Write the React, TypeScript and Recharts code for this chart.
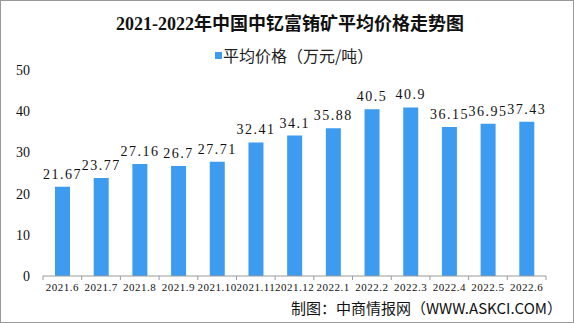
import React from "react";
import { BarChart, Bar, XAxis, YAxis, LabelList, Legend } from "recharts";

const months = [
  "2021.6", "2021.7", "2021.8", "2021.9", "2021.10", "2021.11", "2021.12",
  "2022.1", "2022.2", "2022.3", "2022.4", "2022.5", "2022.6",
];
const prices = [21.67, 23.77, 27.16, 26.7, 27.71, 32.41, 34.1, 35.88, 40.5, 40.9, 36.15, 36.95, 37.43];
const yTicks = [0, 10, 20, 30, 40, 50];

const data = months.map((m, i) => ({ month: m, price: prices[i] }));

const serif = '"Liberation Serif", "DejaVu Serif", serif';
const W = 572;
const H = 321;
const M = { top: 49, right: 27, bottom: 16, left: 0 };
const Y_W = 42;
const band = (W - M.left - M.right - Y_W) / months.length;

function MonthTick(props: any) {
  const { x, y, payload, index } = props;
  const last = index === months.length - 1;
  return (
    <g>
      <line x1={x - band / 2} x2={x - band / 2} y1={y} y2={y + 4} stroke="#9a9a9a" />
      {last && <line x1={x + band / 2} x2={x + band / 2} y1={y} y2={y + 4} stroke="#9a9a9a" />}
      <text
        x={x}
        y={y + 15}
        textAnchor="middle"
        fontSize={11}
        fill="#111"
        fontFamily={serif}
        letterSpacing={0.5}
      >
        {payload.value}
      </text>
    </g>
  );
}

function LegendBox() {
  return (
    <div style={{ display: "flex", alignItems: "center", height: 20, lineHeight: "20px", fontSize: 16, color: "#222" }}>
      <span style={{ width: 7, height: 7, background: "#3d9cf0", marginRight: 1, display: "inline-block" }} />
      <span>平均价格（万元/吨）</span>
    </div>
  );
}

export default function App() {
  return (
    <div
      style={{
        position: "absolute",
        left: 0,
        top: 0,
        width: 574,
        height: 323,
        boxSizing: "border-box",
        border: "1px solid #999",
        background: "#fff",
        fontFamily: '"Noto Sans CJK SC", sans-serif',
      }}
    >
      <div
        style={{
          position: "absolute",
          top: 13,
          left: 0,
          width: 578,
          height: 20,
          lineHeight: "20px",
          textAlign: "center",
          fontFamily: '"Liberation Serif", "Noto Sans CJK SC", serif',
          fontWeight: "bold",
          fontSize: 18,
          color: "#111",
        }}
      >
        2021-2022年中国中钇富铕矿平均价格走势图
      </div>
      <BarChart width={W} height={H} data={data} margin={M}>
        <Legend
          verticalAlign="top"
          content={<LegendBox />}
          wrapperStyle={{ top: 44, left: 214, width: 200, height: 20 }}
        />
        <XAxis
          dataKey="month"
          height={30}
          axisLine={{ stroke: "#9a9a9a" }}
          tickLine={false}
          tickSize={0}
          tickMargin={0}
          interval={0}
          tick={<MonthTick />}
        />
        <YAxis
          width={Y_W}
          domain={[0, 50]}
          ticks={yTicks}
          axisLine={false}
          tickLine={false}
          tickMargin={7}
          tick={{ fontSize: 14, fill: "#111", fontFamily: serif }}
        />
        <Bar
          dataKey="price"
          name="平均价格（万元/吨）"
          fill="#3d9cf0"
          barSize={15}
          isAnimationActive={false}
        >
          <LabelList
            dataKey="price"
            position="top"
            offset={8}
            style={{ fontSize: 14, fill: "#111", fontFamily: serif, letterSpacing: 1.5 }}
          />
        </Bar>
      </BarChart>
      <div
        style={{
          position: "absolute",
          right: 11,
          top: 298,
          lineHeight: "18px",
          fontSize: 15,
          color: "#111",
        }}
      >
        制图：中商情报网（WWW.ASKCI.COM）
      </div>
    </div>
  );
}
